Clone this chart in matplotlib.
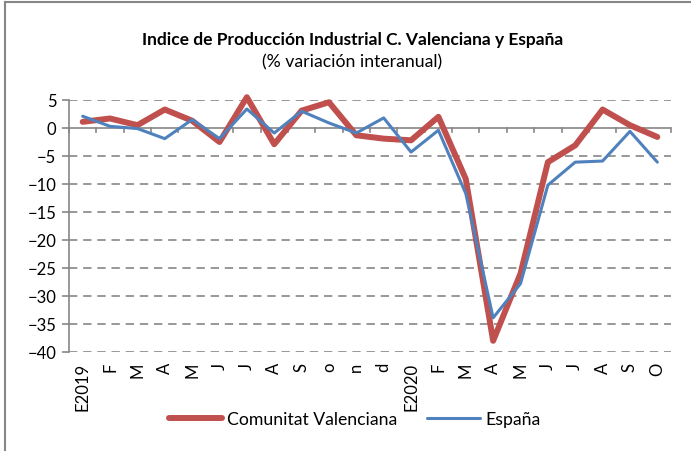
import matplotlib
matplotlib.use('Agg')
import matplotlib.pyplot as plt
from matplotlib.lines import Line2D
import numpy as np

plt.rcParams['font.family'] = ['Lato', 'DejaVu Sans']

meses = ['E2019', 'F', 'M', 'A', 'M', 'J', 'J', 'A', 'S', 'o', 'n', 'd',
         'E2020', 'F', 'M', 'A', 'M', 'J', 'J', 'A', 'S', 'O']
c_valenciana = [1.1, 1.7, 0.5, 3.3, 1.3, -2.5, 5.5, -2.9, 3.1, 4.6, -1.3, -1.9,
                -2.2, 2.0, -9.1, -38.0, -26.0, -6.1, -3.1, 3.3, 0.5, -1.6]
espana = [2.1, 0.3, -0.1, -1.9, 1.5, -1.9, 3.4, -0.9, 3.0, 0.9, -0.9, 1.8,
          -4.3, -0.4, -11.7, -33.9, -27.8, -10.2, -6.1, -5.9, -0.6, -6.1]
y_ticks = [5, 0, -5, -10, -15, -20, -25, -30, -35, -40]

gris = '#868686'
rojo = '#C0504D'
azul = '#4F81BD'

fig = plt.figure(figsize=(6.91, 4.52), dpi=100)
ax = fig.add_axes([69 / 691, 1 - 353 / 452, 602 / 691, 252 / 452])

x = np.arange(len(meses))
ax.plot(x, c_valenciana, color=rojo, lw=4.3, solid_joinstyle='round',
        solid_capstyle='round', zorder=3, clip_on=False)
ax.plot(x, espana, color=azul, lw=2.2, solid_joinstyle='round',
        solid_capstyle='round', zorder=4, clip_on=False)

ax.set_xlim(-0.5, 21.5)
ax.set_ylim(-40, 5)
ax.set_yticks(y_ticks)
for v in y_ticks:
    if v != 0:
        ax.axhline(v, color=gris, lw=1.2, ls=(0, (5, 3.5)), zorder=1)

# eje x cruzando en 0
ax.axhline(0, color=gris, lw=1.2, zorder=2)
for b in np.arange(-0.5, 22, 1):
    ax.plot([b, b], [0, -0.8], color=gris, lw=1.2, zorder=2, clip_on=False)

for s in ['top', 'right', 'bottom']:
    ax.spines[s].set_visible(False)
ax.spines['left'].set_color(gris)
ax.spines['left'].set_linewidth(1.2)
ax.tick_params(axis='y', colors=gris, length=5, width=1.2, labelcolor='black',
               labelsize=12, pad=4)

ax.set_xticks(x)
ax.set_xticklabels(meses, rotation=90, fontsize=12)
ax.tick_params(axis='x', length=0, pad=7)

fig.text(0.51, 1 - 40 / 452, 'Indice de Producción Industrial C. Valenciana y España',
         ha='center', va='center', fontsize=12.5, fontweight='bold')
fig.text(0.51, 1 - 62 / 452, '(% variación interanual)', ha='center', va='center',
         fontsize=12.7)

handles = [Line2D([], [], color=rojo, lw=4.3, solid_capstyle='round'),
           Line2D([], [], color=azul, lw=2.2, solid_capstyle='round')]
fig.legend(handles, ['Comunitat Valenciana', 'España'], loc='center',
           bbox_to_anchor=(355 / 691, 1 - 420 / 452), ncol=2, frameon=False,
           fontsize=12.7, handlelength=3.0, handletextpad=0.3, columnspacing=1.7)

# marco del gráfico
fig.add_artist(Line2D([5 / 691, 5 / 691], [0, 1 - 3 / 452], color=gris, lw=1.5,
                      transform=fig.transFigure))
fig.add_artist(Line2D([5 / 691, 1], [1 - 3 / 452, 1 - 3 / 452], color=gris, lw=1.5,
                      transform=fig.transFigure))

fig.savefig('out.png', dpi=100)
